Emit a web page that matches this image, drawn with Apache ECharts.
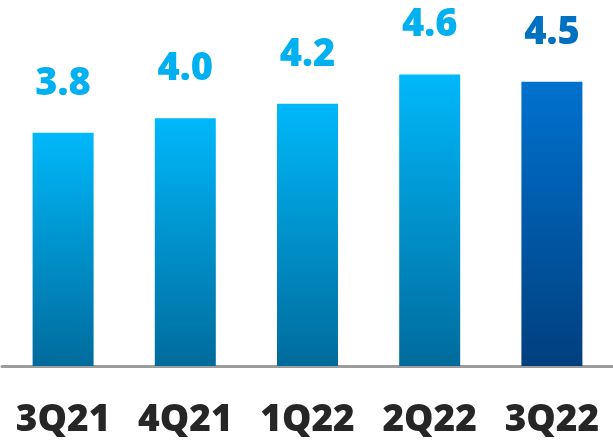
<!DOCTYPE html>
<html>
<head>
<meta charset="utf-8">
<script src="https://cdn.jsdelivr.net/npm/echarts@6/dist/echarts.min.js"></script>
<style>
  html, body { margin: 0; padding: 0; background: #ffffff; }
  #chart { width: 613px; height: 446px; }
</style>
</head>
<body>
<div id="chart"></div>
<script>
// Quarterly values
const quarters = ['3Q21', '4Q21', '1Q22', '2Q22', '3Q22'];
const values = [3.8, 4.0, 4.2, 4.6, 4.5];

const FONT = '"Open Sans", "Liberation Sans", sans-serif';

function grad(top, bottom) {
  return new echarts.graphic.LinearGradient(0, 0, 0, 1, [
    { offset: 0, color: top },
    { offset: 1, color: bottom }
  ]);
}

const lightFill = grad('#00b8fa', '#006b9c');
const darkFill = grad('#0072cf', '#003f7e');
const lastIndex = quarters.length - 1;

const seriesData = values.map((v, i) => {
  const isLast = i === lastIndex;
  return {
    value: v,
    itemStyle: { color: isLast ? darkFill : lightFill },
    label: { color: isLast ? '#0070c0' : '#00b0f0' }
  };
});

const chart = echarts.init(document.getElementById('chart'), null, { renderer: 'canvas' });
chart.setOption({
  animation: false,
  backgroundColor: '#ffffff',
  grid: { left: 2, right: -2, top: 9, bottom: 80, containLabel: false },
  xAxis: {
    type: 'category',
    data: quarters,
    axisLine: { lineStyle: { color: '#9c9c9c', width: 3 } },
    axisTick: { show: false },
    axisLabel: {
      interval: 0,
      hideOverlap: false,
      margin: 36,
      fontFamily: FONT,
      fontWeight: 800,
      fontSize: 37,
      color: '#262626'
    }
  },
  yAxis: {
    type: 'value',
    min: 0.6,
    max: 5.5,
    show: false,
    splitLine: { show: false }
  },
  series: [{
    type: 'bar',
    data: seriesData,
    barWidth: 61,
    label: {
      show: true,
      position: 'top',
      distance: 30,
      fontFamily: FONT,
      fontWeight: 800,
      fontSize: 38,
      formatter: p => p.value.toFixed(1)
    }
  }]
});
</script>
</body>
</html>
